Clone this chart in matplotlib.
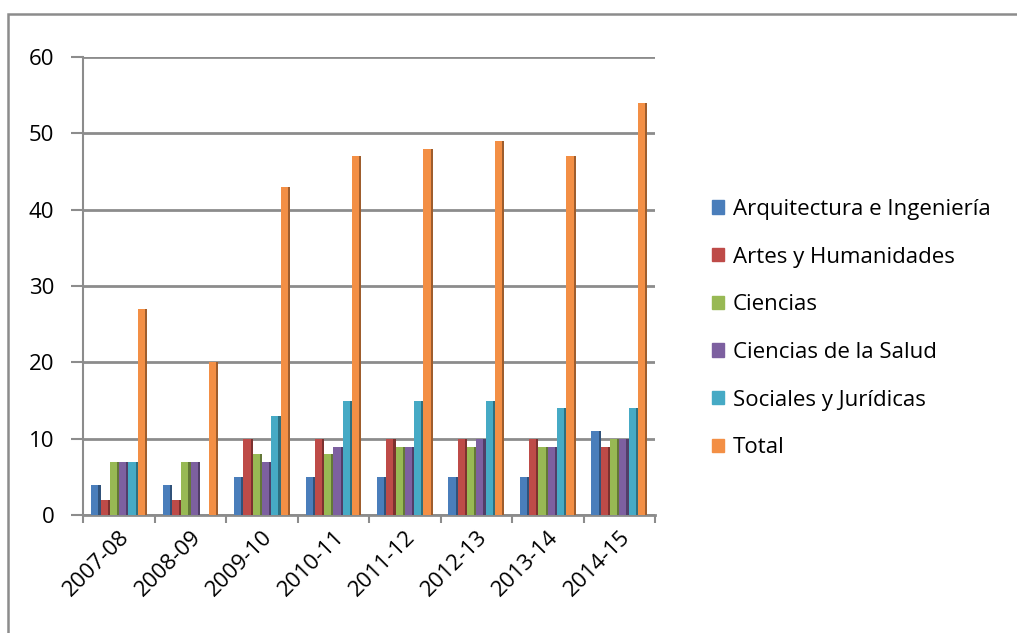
import matplotlib.pyplot as plt
import matplotlib.patches as mpatches
from matplotlib.colors import to_rgb
import numpy as np

plt.rcParams['font.family'] = ['Open Sans', 'DejaVu Sans']

years = ['2007-08', '2008-09', '2009-10', '2010-11',
         '2011-12', '2012-13', '2013-14', '2014-15']
series = ['Arquitectura e Ingeniería', 'Artes y Humanidades', 'Ciencias',
          'Ciencias de la Salud', 'Sociales y Jurídicas', 'Total']

arquitectura = [4, 4, 5, 5, 5, 5, 5, 11]
artes = [2, 2, 10, 10, 10, 10, 10, 9]
ciencias = [7, 7, 8, 8, 9, 9, 9, 10]
salud = [7, 7, 7, 9, 9, 10, 9, 10]
sociales = [7, 0, 13, 15, 15, 15, 14, 14]
total = [27, 20, 43, 47, 48, 49, 47, 54]

values = [arquitectura, artes, ciencias, salud, sociales, total]
colors = ['#4A7EBB', '#BE4B48', '#98B954', '#7D60A0', '#46AAC5', '#F38F45']


def darker(c, f=0.65):
    r, g, b = to_rgb(c)
    return (r * f, g * f, b * f)


fig = plt.figure(figsize=(10.17, 6.33), dpi=100)
ax = fig.add_axes([0.082, 0.186, 0.562, 0.724])

# chart frame
fig.patches.append(mpatches.Rectangle((0.008, -0.05), 1.2, 1.028,
                                      transform=fig.transFigure,
                                      fill=False, edgecolor='#8c8c8c',
                                      linewidth=1.8))

x = np.arange(len(years))
slot = 0.13
side = 0.03
handles = []
for i, (vals, col) in enumerate(zip(values, colors)):
    left = x - 0.5 + 0.11 + i * slot
    ax.bar(left, vals, width=slot - side, align='edge', color=col,
           zorder=3, linewidth=0)
    ax.bar(left + slot - side, vals, width=side, align='edge',
           color=darker(col), zorder=3, linewidth=0)
    handles.append(mpatches.Patch(color=col, label=series[i]))

ax.set_xlim(-0.5, len(years) - 0.5)
ax.set_ylim(0, 60)
ax.set_yticks(range(0, 61, 10))
ax.yaxis.grid(True, color='#8c8c8c', linewidth=2, zorder=0)
ax.set_axisbelow(True)

for s in ['top', 'right']:
    ax.spines[s].set_visible(False)
ax.spines['left'].set_color('#8c8c8c')
ax.spines['bottom'].set_color('#8c8c8c')
ax.spines['left'].set_linewidth(1.5)
ax.spines['bottom'].set_linewidth(2)

ax.set_xticks(np.arange(len(years) + 1) - 0.5, minor=True)
ax.set_xticks(x)
ax.set_xticklabels(years, rotation=45, ha='right', rotation_mode='anchor',
                   fontsize=16)
ax.tick_params(axis='x', which='major', length=0, pad=8)
ax.tick_params(axis='x', which='minor', length=6, color='#8c8c8c', width=1.5)
ax.tick_params(axis='y', length=9, color='#8c8c8c', width=1.5, labelsize=16,
               pad=12)

fig.legend(handles=handles, loc='center left', bbox_to_anchor=(0.68, 0.481),
           frameon=False, fontsize=16, handlelength=0.55, handleheight=0.55,
           handletextpad=0.4, labelspacing=1.2)

fig.savefig('out.png', dpi=100)
